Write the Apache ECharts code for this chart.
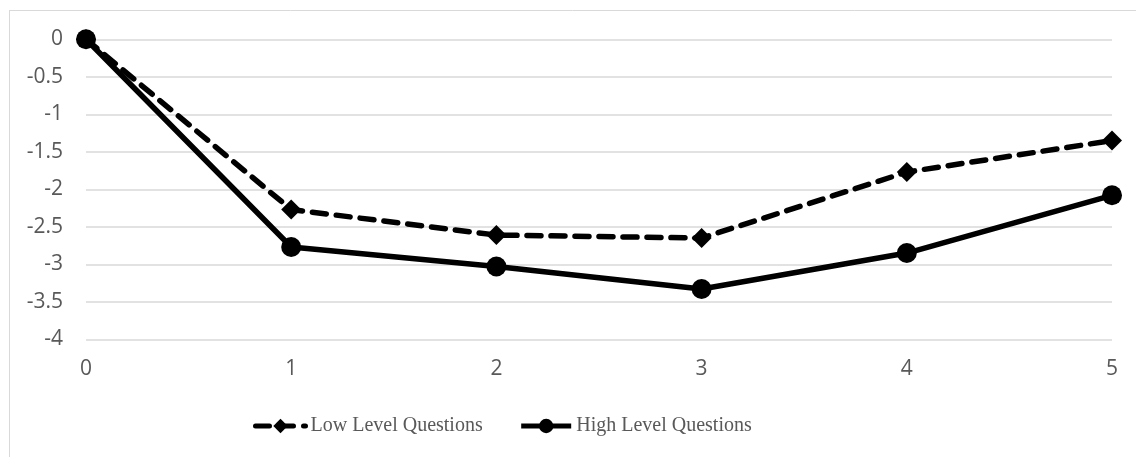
<!DOCTYPE html>
<html>
<head>
<meta charset="utf-8">
<script src="https://cdn.jsdelivr.net/npm/echarts@6/dist/echarts.min.js"></script>
<style>html,body{margin:0;padding:0;background:#fff;}#c{width:1136px;height:457px;}</style>
</head>
<body>
<div id="c"></div>
<script>
var categories = ['0', '1', '2', '3', '4', '5'];
var lowLevel = [0, -2.27, -2.61, -2.65, -1.77, -1.35];
var highLevel = [0, -2.77, -3.03, -3.33, -2.85, -2.08];
var seriesNames = ['Low Level Questions', 'High Level Questions'];

var chart = echarts.init(document.getElementById('c'), null, {renderer: 'canvas'});
chart.setOption({
  animation: false,
  backgroundColor: '#ffffff',
  graphic: [
    {type: 'line', shape: {x1: 9.5, y1: 10, x2: 9.5, y2: 457}, style: {stroke: '#d9d9d9', lineWidth: 1}},
    {type: 'line', shape: {x1: 9, y1: 10.5, x2: 1136, y2: 10.5}, style: {stroke: '#d9d9d9', lineWidth: 1}}
  ],
  grid: {left: 86, right: 24, top: 39.3, bottom: 117.7, containLabel: false},
  xAxis: {
    type: 'category',
    data: categories,
    boundaryGap: false,
    axisLine: {show: false},
    axisTick: {show: false},
    axisLabel: {margin: 19, color: '#595959', fontFamily: 'Open Sans', fontSize: 21}
  },
  yAxis: {
    type: 'value',
    min: -4,
    max: 0,
    interval: 0.5,
    axisLine: {show: false},
    axisTick: {show: false},
    axisLabel: {margin: 23, color: '#595959', fontFamily: 'Open Sans', fontSize: 21},
    splitLine: {lineStyle: {color: '#d9d9d9', width: 1.5}}
  },
  legend: {
    left: 248,
    top: 411,
    itemWidth: 50,
    itemHeight: 18,
    itemGap: 36,
    itemStyle: {color: '#000'},
    lineStyle: {width: 5, color: '#000'},
    textStyle: {fontFamily: 'Liberation Serif', fontSize: 20, color: '#595959'},
    data: seriesNames
  },
  series: [
    {
      name: seriesNames[0],
      type: 'line',
      data: lowLevel,
      symbol: 'diamond',
      symbolSize: 20,
      itemStyle: {color: '#000'},
      lineStyle: {color: '#000', width: 5.5, type: [14, 10], cap: 'round'},
      z: 3
    },
    {
      name: seriesNames[1],
      type: 'line',
      data: highLevel,
      symbol: 'circle',
      symbolSize: 20,
      itemStyle: {color: '#000'},
      lineStyle: {color: '#000', width: 5.5},
      z: 2
    }
  ]
});
</script>
</body>
</html>
